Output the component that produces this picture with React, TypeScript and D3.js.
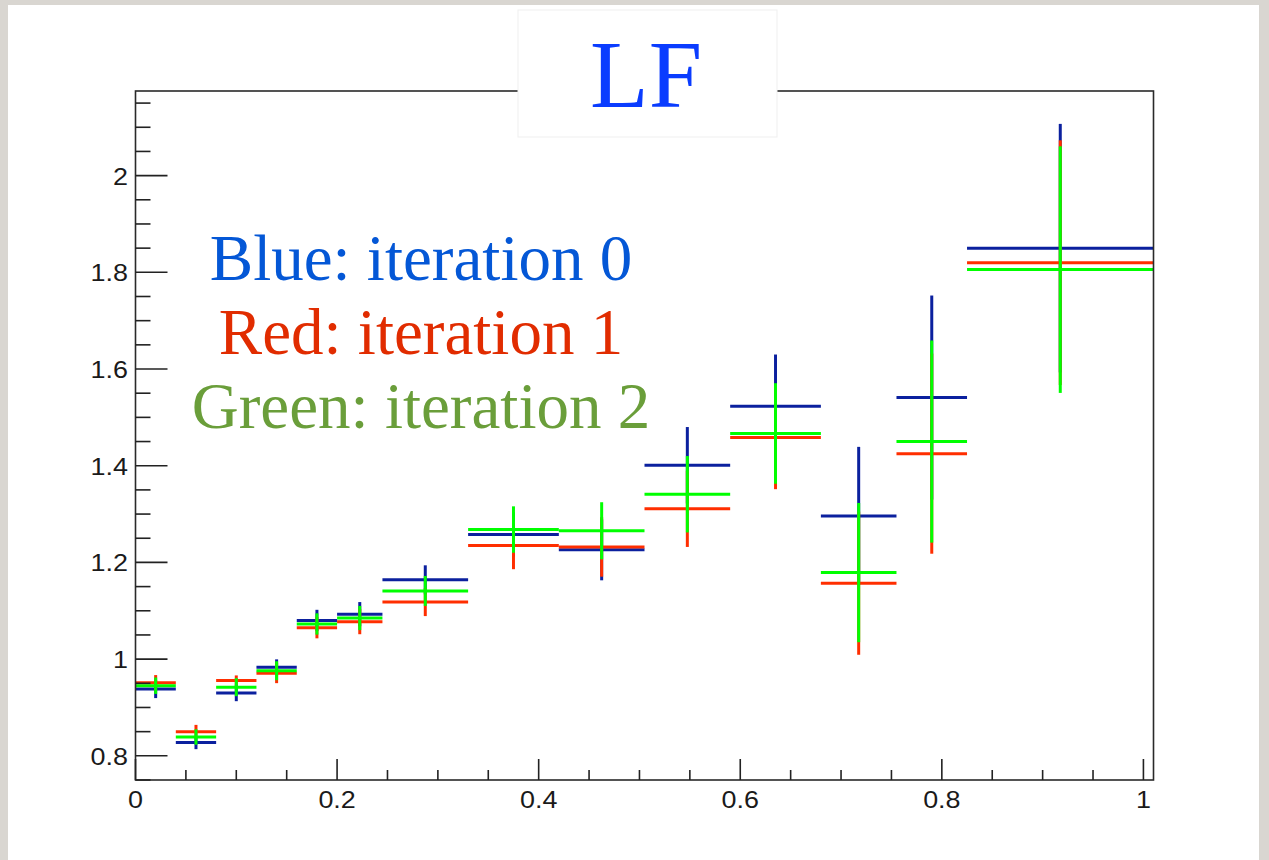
import React from "react";
import * as d3 from "d3";

// ---- data ----
const binEdges = [0, 0.04, 0.08, 0.12, 0.16, 0.2, 0.245, 0.33, 0.42, 0.505, 0.59, 0.68, 0.755, 0.825, 1.01];

const blueValues = [0.938, 0.8275, 0.930, 0.983, 1.080, 1.093, 1.164, 1.258, 1.226, 1.401, 1.523, 1.296, 1.541, 1.850];
const blueErrors = [0.0186, 0.0137, 0.017, 0.0165, 0.022, 0.025, 0.030, 0.046, 0.063, 0.079, 0.107, 0.143, 0.211, 0.257];

const redValues = [0.951, 0.850, 0.956, 0.971, 1.065, 1.0775, 1.118, 1.235, 1.232, 1.311, 1.4585, 1.157, 1.425, 1.820];
const redErrors = [0.016, 0.014, 0.0103, 0.0207, 0.022, 0.026, 0.029, 0.049, 0.0615, 0.079, 0.107, 0.148, 0.207, 0.253];

const greenValues = [0.945, 0.839, 0.942, 0.976, 1.0727, 1.085, 1.141, 1.268, 1.2655, 1.341, 1.4667, 1.179, 1.450, 1.8056];
const greenErrors = [0.017, 0.016, 0.0186, 0.0196, 0.022, 0.025, 0.031, 0.048, 0.059, 0.079, 0.104, 0.144, 0.209, 0.255];

const xTickValues = [0, 0.2, 0.4, 0.6, 0.8, 1];
const xTickLabels = ["0", "0.2", "0.4", "0.6", "0.8", "1"];
const yTickValues = [0.8, 1, 1.2, 1.4, 1.6, 1.8, 2];
const yTickLabels = ["0.8", "1", "1.2", "1.4", "1.6", "1.8", "2"];

const titleText = "LF";
const legendLines = ["Blue: iteration 0", "Red: iteration 1", "Green: iteration 2"];

// ---- styles ----
const seriesColors = ["#0b209e", "#ff2e00", "#00ff00"];
const legendColors = ["#0457d6", "#e12c00", "#6a9e3a"];

const W = 1269;
const H = 860;
const frame = { left: 135.5, right: 1153.5, top: 91, bottom: 780 };

export default function App() {
  const x = d3.scaleLinear().domain([0, 1.01]).range([frame.left, frame.right]);
  const y = d3.scaleLinear().domain([0.75, 2.175]).range([frame.bottom, frame.top]);

  const xMinor = d3.range(0, 21).map((i) => i * 0.05).filter((v) => !xTickValues.some((t) => Math.abs(t - v) < 1e-6));
  const yMinor = d3.range(0, 29).map((i) => 0.75 + i * 0.05).filter((v) => !yTickValues.some((t) => Math.abs(t - v) < 1e-6) && v <= 2.175);

  const series = [
    { values: blueValues, errors: blueErrors, color: seriesColors[0] },
    { values: redValues, errors: redErrors, color: seriesColors[1] },
    { values: greenValues, errors: greenErrors, color: seriesColors[2] },
  ];

  const labelFont = "'Liberation Sans', Arial, Helvetica, sans-serif";
  const serif = "'Liberation Serif', 'Times New Roman', serif";
  const stretch = 1.17;

  return (
    <svg width={W} height={H} style={{ position: "absolute", left: 0, top: 0, display: "block" }}>
      <rect x={0} y={0} width={W} height={H} fill="#d9d6d1" />
      <rect x={8} y={5} width={1251} height={H - 5} fill="#ffffff" />

      {/* data */}
      {series.map((s, si) => (
        <g key={si} stroke={s.color} strokeWidth={3} fill="none">
          {s.values.map((v, i) => {
            const x0 = x(binEdges[i]);
            const x1 = x(binEdges[i + 1]);
            const xc = x((binEdges[i] + binEdges[i + 1]) / 2);
            return (
              <g key={i}>
                <line x1={x0} x2={x1} y1={y(v)} y2={y(v)} />
                <line x1={xc} x2={xc} y1={y(v + s.errors[i])} y2={y(v - s.errors[i])} />
              </g>
            );
          })}
        </g>
      ))}

      {/* frame */}
      <rect x={frame.left} y={frame.top} width={frame.right - frame.left} height={frame.bottom - frame.top} fill="none" stroke="#2a2a2a" strokeWidth={1.6} />

      {/* ticks */}
      <g stroke="#222" strokeWidth={1.6}>
        {xTickValues.map((t) => (
          <line key={"xm" + t} x1={x(t)} x2={x(t)} y1={frame.bottom} y2={frame.bottom - 21} />
        ))}
        {xMinor.map((t) => (
          <line key={"xn" + t} x1={x(t)} x2={x(t)} y1={frame.bottom} y2={frame.bottom - 10} />
        ))}
        {yTickValues.map((t) => (
          <line key={"ym" + t} x1={frame.left} x2={frame.left + 32} y1={y(t)} y2={y(t)} />
        ))}
        {yMinor.map((t) => (
          <line key={"yn" + t} x1={frame.left} x2={frame.left + 15} y1={y(t)} y2={y(t)} />
        ))}
      </g>

      {/* tick labels */}
      {xTickValues.map((t, i) => (
        <g key={"xl" + t} transform={`translate(${x(t)},${808}) scale(${stretch},1)`}>
          <text textAnchor="middle" fontFamily={labelFont} fontSize={23} fill="#1a1a1a">
            {xTickLabels[i]}
          </text>
        </g>
      ))}
      {yTickValues.map((t, i) => (
        <g key={"yl" + t} transform={`translate(${128},${y(t) + 9}) scale(${stretch},1)`}>
          <text textAnchor="end" fontFamily={labelFont} fontSize={23} fill="#1a1a1a">
            {yTickLabels[i]}
          </text>
        </g>
      ))}

      {/* legend text */}
      {legendLines.map((l, i) => (
        <text key={l} x={421} y={280 + i * 74} textAnchor="middle" fontFamily={serif} fontSize={65} fill={legendColors[i]}>
          {l}
        </text>
      ))}

      {/* title box */}
      <rect x={518} y={10} width={259} height={127} fill="#ffffff" stroke="#efefef" strokeWidth={1} />
      <text x={646} y={107} textAnchor="middle" fontFamily={serif} fontSize={96} fill="#0a3cff">
        {titleText}
      </text>
    </svg>
  );
}
